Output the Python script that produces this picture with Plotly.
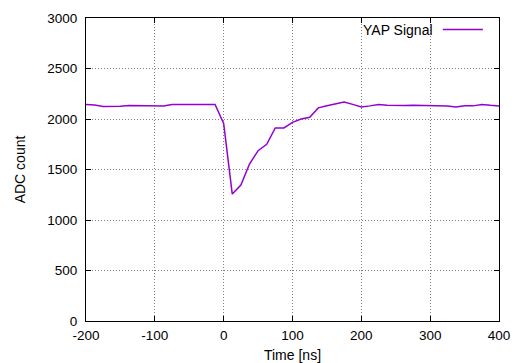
import plotly.graph_objects as go

time_ns = [-200 + 12.5 * i for i in range(49)]
adc = [2143, 2138, 2125, 2123, 2127, 2133, 2132, 2130, 2129, 2128, 2143, 2143, 2143, 2144, 2144, 2143,
       1957, 1257, 1346, 1554, 1686, 1749, 1911, 1911, 1967, 2000, 2017, 2110, 2132, 2149, 2168, 2145,
       2119, 2130, 2143, 2137, 2133, 2134, 2135, 2135, 2133, 2130, 2128, 2119, 2132, 2130, 2144, 2135, 2129]

series_name = "YAP Signal"
x_ticks = [-200, -100, 0, 100, 200, 300, 400]
y_ticks = [0, 500, 1000, 1500, 2000, 2500, 3000]
line_color = "#9400D3"

fig = go.Figure()
fig.add_trace(go.Scatter(x=time_ns, y=adc, mode="lines", name=series_name,
                         line=dict(color=line_color, width=1.5), showlegend=False))

axis_common = dict(showline=True, linecolor="black", linewidth=1, mirror="ticks",
                   ticks="inside", ticklen=5, tickcolor="black", automargin=False,
                   showgrid=True, gridcolor="#808080", griddash="1px,2px", gridwidth=1,
                   zeroline=False, tickfont=dict(size=13.5, color="black"))

fig.update_xaxes(range=[-200, 400], tickvals=x_ticks, ticktext=[str(v) for v in x_ticks],
                 title=dict(text="Time [ns]", font=dict(size=14, color="black"), standoff=8),
                 ticklabelstandoff=2, **axis_common)
fig.update_yaxes(range=[0, 3000], tickvals=y_ticks, ticktext=[str(v) for v in y_ticks],
                 title=dict(text="ADC count", font=dict(size=14, color="black"), standoff=18),
                 ticklabelstandoff=5, **axis_common)

# legend drawn gnuplot-style: text with sample line on the right
fig.add_annotation(x=0.845, y=0.962, xref="paper", yref="paper", text=series_name,
                   showarrow=False, xanchor="right", yanchor="middle",
                   font=dict(size=14, color="black"))
fig.add_shape(type="line", xref="paper", yref="paper", x0=0.864, x1=0.961, y0=0.962, y1=0.962,
              line=dict(color=line_color, width=1.5))

fig.update_layout(width=515, height=363, margin=dict(l=86, r=16, t=18, b=42),
                  plot_bgcolor="white", paper_bgcolor="white",
                  font=dict(family="Liberation Sans, Arial, sans-serif", color="black"))

fig.write_html("out.html")
